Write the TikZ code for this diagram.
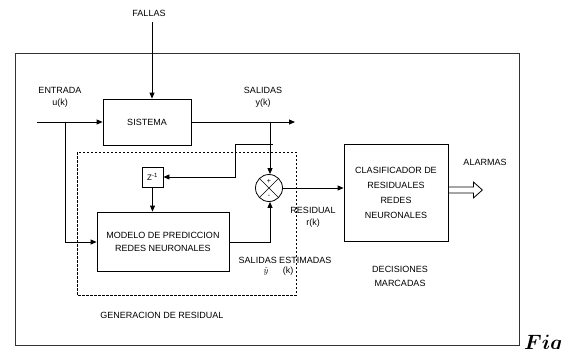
\documentclass[tikz,border=0pt]{standalone}
\usepackage{fontspec}
\setmainfont{Liberation Sans}
\usetikzlibrary{arrows.meta,calc}
\begin{document}
\begin{tikzpicture}[x=1pt,y=-1pt,
  lbl/.style={font=\fontsize{9}{11}\selectfont, inner sep=0pt, align=center},
  blk/.style={draw, line width=0.8pt, inner sep=0pt, font=\fontsize{9}{15}\selectfont, align=center},
  conn/.style={line width=0.8pt, -{Triangle[length=6pt,width=5pt]}},
  ln/.style={line width=0.8pt}]
\useasboundingbox (0,0) rectangle (562,348);
% outer frame
\draw[line width=0.9pt, black!80] (15,53) rectangle (519,345);
% dashed region
\draw[line width=0.6pt, dashed, dash pattern=on 2.5pt off 1.5pt] (77,152) rectangle (296,295);
% blocks
\node[blk, minimum width=88pt, minimum height=46pt] (sis) at (147,122) {SISTEMA};
\node[blk, minimum width=21pt, minimum height=20pt, font=\fontsize{8}{9}\selectfont] (z) at (152.5,177) {Z\textsuperscript{-1}};
\node[blk, minimum width=132pt, minimum height=59pt, font=\fontsize{9}{13}\selectfont] (mod) at (163,241.5) {MODELO DE PREDICCION\\REDES NEURONALES};
\node[blk, minimum width=104pt, minimum height=97pt] (cla) at (396,193) {CLASIFICADOR DE\\RESIDUALES\\REDES\\NEURONALES};
\node[draw, line width=0.8pt, circle, minimum size=27pt, inner sep=0pt] (sum) at (269,188) {};
\draw[line width=0.6pt] (sum.north west) -- (sum.south east) (sum.north east) -- (sum.south west);
\node[font=\fontsize{7}{7}\selectfont, inner sep=0pt] (plus) at (269,181) {+};
\node[font=\fontsize{7}{7}\selectfont, inner sep=0pt] (minus) at (269,196.5) {-};
% labels
\node[lbl] (fallas) at (149,13) {FALLAS};
\node[lbl] (entrada) at (60,97) {ENTRADA\\[1pt]u(k)};
\node[lbl] (salidas) at (263,97) {SALIDAS\\[1pt]y(k)};
\node[lbl] (residual) at (313,217) {RESIDUAL\\[1pt]r(k)};
\node[lbl] (salest) at (285,260) {SALIDAS ESTIMADAS};
\node[lbl, font=\fontsize{9}{11}\selectfont] (yhat) at (266,271) {$\hat{y}$};
\node[lbl] (yk) at (288,271) {(k)};
\node[lbl] (decis) at (400,276) {DECISIONES\\[3pt]MARCADAS};
\node[lbl] (gen) at (162,315) {GENERACION DE RESIDUAL};
\node[lbl] (alarmas) at (485,162) {ALARMAS};
\node[inner sep=0pt, font=\fontsize{21}{21}\selectfont\boldmath, anchor=base west] (fig) at (524,349) {$Fig$};
% coordinates
\coordinate (fin) at (152,22);
\coordinate (uin) at (37,122);
\coordinate (ubr) at (65,122);
\coordinate (yout) at (295,122);
\coordinate (ybr) at (270,122);
% connectors
\draw[conn] (fin) -- (sis.north -| fin);
\draw[conn] (uin) -- (sis.west |- uin);
\draw[conn] (ubr) |- (mod.west |- 0,242);
\draw[conn] (sis.east |- yout) -- (yout);
\draw[conn] (ybr) -- (sum.north -| ybr);
\draw[conn] (273,144) -- (235,144) |- (z.east);
\draw[conn] (z.south) -- (mod.north -| z.south);
\draw[conn] (mod.east |- 0,242) -| (sum.south -| ybr);
\draw[conn] (sum.east) -- (cla.west |- sum.east);
% hollow output arrow
\draw[line width=0.8pt] ($(cla.east)+(0,-6)$) -- ++(25,0) -- ++(0,-5) -- ++(9,8) -- ++(-9,8) -- ++(0,-5) -- ++(-25,0);
\end{tikzpicture}
\end{document}
